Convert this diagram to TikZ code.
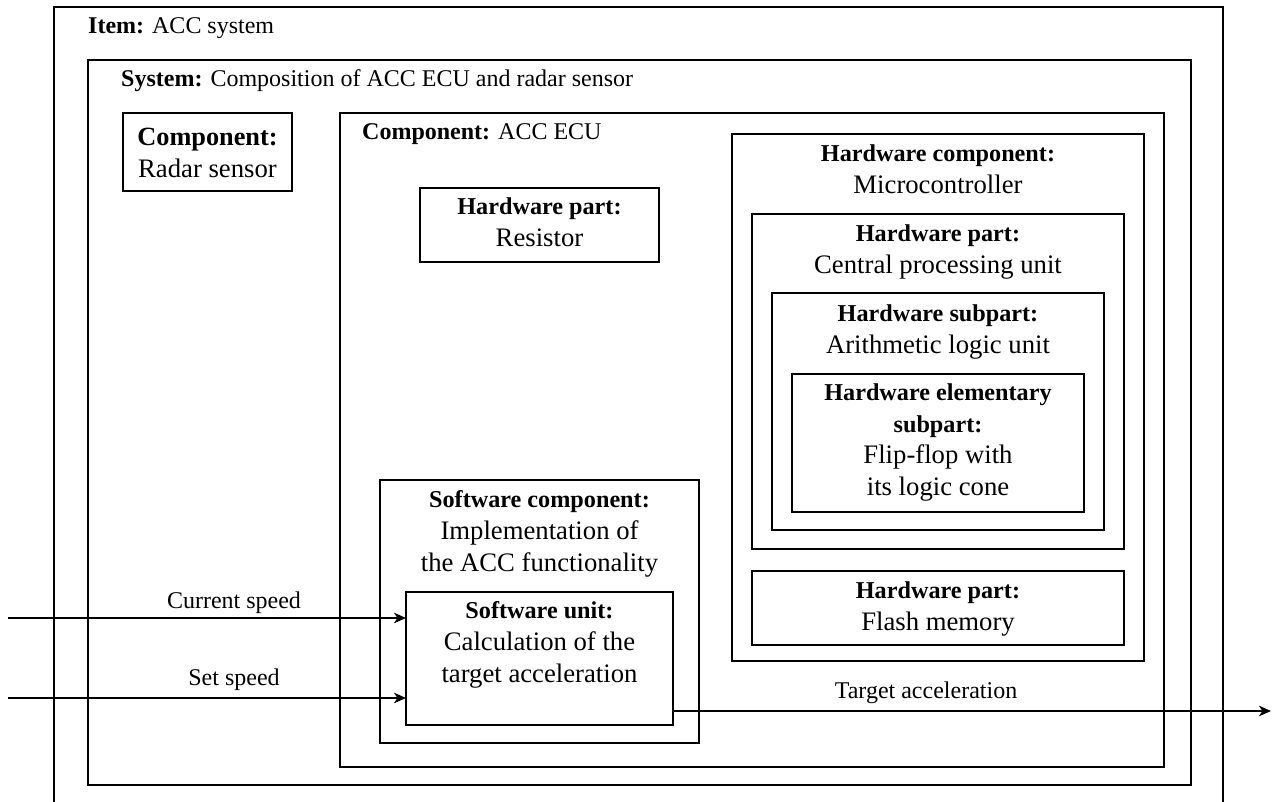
\documentclass[tikz,border=0pt]{standalone}
\usepackage{fontspec}
\setmainfont{Liberation Serif}
\usetikzlibrary{arrows.meta}
\newcommand\bodysz{\fontsize{26.7}{31.7}\selectfont}
\newcommand\headsz{\fontsize{24.2}{31.7}\selectfont\bfseries}
\newcommand\labsz{\fontsize{24}{28}\selectfont}
\newcommand\mybox[5]{\node[box, minimum width={(#4-#2)*1pt}, minimum height={(#5-#3)*1pt}] (#1) at (#2,#3) {};}
\begin{document}
\begin{tikzpicture}[x=1pt,y=-1pt,
  box/.style={draw, line width=1.3pt, inner sep=0pt, outer sep=0pt, anchor=north west},
  txt/.style={inner sep=0pt, align=center, anchor=north, font=\bodysz},
  lab/.style={inner sep=0pt, anchor=base west, font=\labsz},
  flow/.style={line width=2pt, -{Stealth[length=12pt,width=10.5pt,inset=3.5pt]}},
  flowlab/.style={inner sep=0pt, anchor=base, font=\labsz}]
\useasboundingbox (0,0) rectangle (1273,802);
% boxes
\mybox{item}{54}{7}{1223}{840}
\mybox{sys}{88}{60}{1191}{785}
\mybox{radar}{123}{113}{292}{191}
\mybox{ecu}{340}{113}{1164}{767}
\mybox{res}{420}{188}{659}{262}
\mybox{mc}{732}{134}{1144}{661}
\mybox{cpu}{752}{214}{1124}{549}
\mybox{alu}{772}{293}{1104}{530}
\mybox{ff}{792}{374}{1084}{512}
\mybox{flash}{752}{571}{1124}{645}
\mybox{swc}{380}{480}{699}{743}
\mybox{swu}{406}{592}{673}{725}
% labels
\node[lab] (itemlab) at (88,34) {\textbf{Item:} ACC system};
\node[lab] (syslab) at (121,87) {\textbf{System:} Composition of ACC ECU and radar sensor};
\node[lab] (eculab) at (362,140) {\textbf{Component:} ACC ECU};
% box texts
\node[txt] (radartxt) at (207.5,128.2) {{\fontsize{26.3}{31}\selectfont\bfseries Component:}\\Radar sensor};
\node[txt] (restxt) at (539.5,197.6) {{\headsz Hardware part:}\\Resistor};
\node[txt] (mctxt) at (938,144.6) {{\headsz Hardware component:}\\Microcontroller};
\node[txt] (cputxt) at (938,224.6) {{\headsz Hardware part:}\\Central processing unit};
\node[txt] (alutxt) at (938,304.6) {{\headsz Hardware subpart:}\\Arithmetic logic unit};
\node[txt] (fftxt) at (938,383.6) {{\headsz Hardware elementary}\\{\headsz subpart:}\\Flip-flop with\\its logic cone};
\node[txt] (flashtxt) at (938,581.6) {{\headsz Hardware part:}\\Flash memory};
\node[txt] (swctxt) at (539.5,490.6) {{\headsz Software component:}\\Implementation of\\the ACC functionality};
\node[txt] (swutxt) at (539.5,601.6) {{\headsz Software unit:}\\Calculation of the\\target acceleration};
% connectors
\coordinate (in1) at (8,618);
\coordinate (in2) at (8,698);
\coordinate (out) at (1271,711);
\draw[flow] (in1) -- (in1 -| swu.west);
\draw[flow] (in2) -- (in2 -| swu.west);
\draw[flow] (out -| swu.east) -- (out);
\node[flowlab] (l1) at (234,608) {Current speed};
\node[flowlab] (l2) at (234,685) {Set speed};
\node[flowlab] (l3) at (926,698) {Target acceleration};
\end{tikzpicture}
\end{document}
